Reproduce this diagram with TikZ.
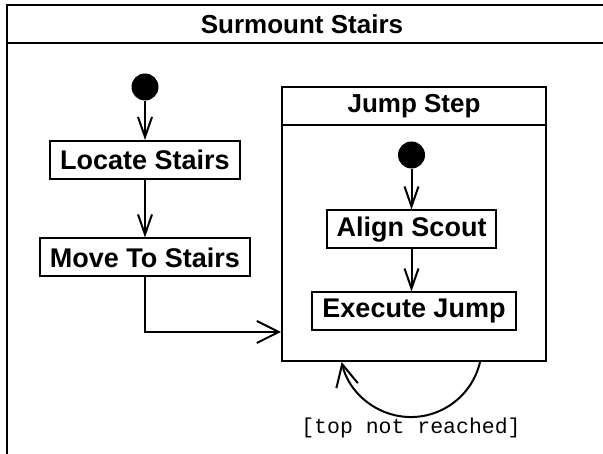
\documentclass[tikz,border=0pt]{standalone}
\usepackage{fontspec}
\setmainfont{Liberation Sans}
\newfontfamily\guardfont{Liberation Mono}
\usetikzlibrary{arrows.meta}
\tikzset{
  activity/.style={draw, line width=2pt, font=\fontsize{27}{31}\selectfont\bfseries,
    minimum height=38pt, inner xsep=10pt},
  initial/.style={circle, fill, inner sep=0pt, minimum size=27pt},
  heading/.style={font=\fontsize{26}{30}\selectfont\bfseries},
  flow/.style={line width=2pt, -{Straight Barb[length=20pt, width=14pt]}},
  bigflow/.style={line width=2pt, -{Straight Barb[length=22pt, width=22pt]}}
}

\begin{document}
\begin{tikzpicture}[x=1pt, y=1pt]
  \clip (0,0) rectangle (603,454);
  % outer frame, cut off at right and bottom
  \draw[line width=2pt] (7,-10) |- (620,449);
  \draw[line width=2pt] (7,411) -- (620,411);
  \node[heading] (title) at (302,430) {Surmount Stairs};

  \node[initial] (start) at (145,367) {};
  \node[activity] (locate) at (145,294) {Locate Stairs};
  \node[activity] (move) at (145,196.5) {Move To Stairs};

  % composite activity
  \node[draw, line width=2pt, minimum width=264pt, minimum height=274pt] (jump) at (414,230) {};
  \draw[line width=2pt] (jump.west |- 0,329) -- (jump.east |- 0,329);
  \node[heading] (jumptitle) at (414,347.5) {Jump Step};
  \node[initial] (start2) at (411.5,299) {};
  \node[activity] (align) at (411.5,224.5) {Align Scout};
  \node[activity] (execute) at (414,142.5) {Execute Jump};

  \draw[flow] (start) -- (locate);
  \draw[flow] (locate) -- (move);
  \draw[flow] (start2) -- (align);
  \draw[flow] (align) -- (align |- execute.north);
  \draw[bigflow] (move) |- ([yshift=-108pt]jump.west);
  \draw[bigflow] ([xshift=66pt]jump.south) arc[start angle=-13, end angle=-167, radius=71pt];
  \node[font=\guardfont\fontsize{21.5}{25}\selectfont] (guard) at (411,26) {[top not reached]};
\end{tikzpicture}
\end{document}
